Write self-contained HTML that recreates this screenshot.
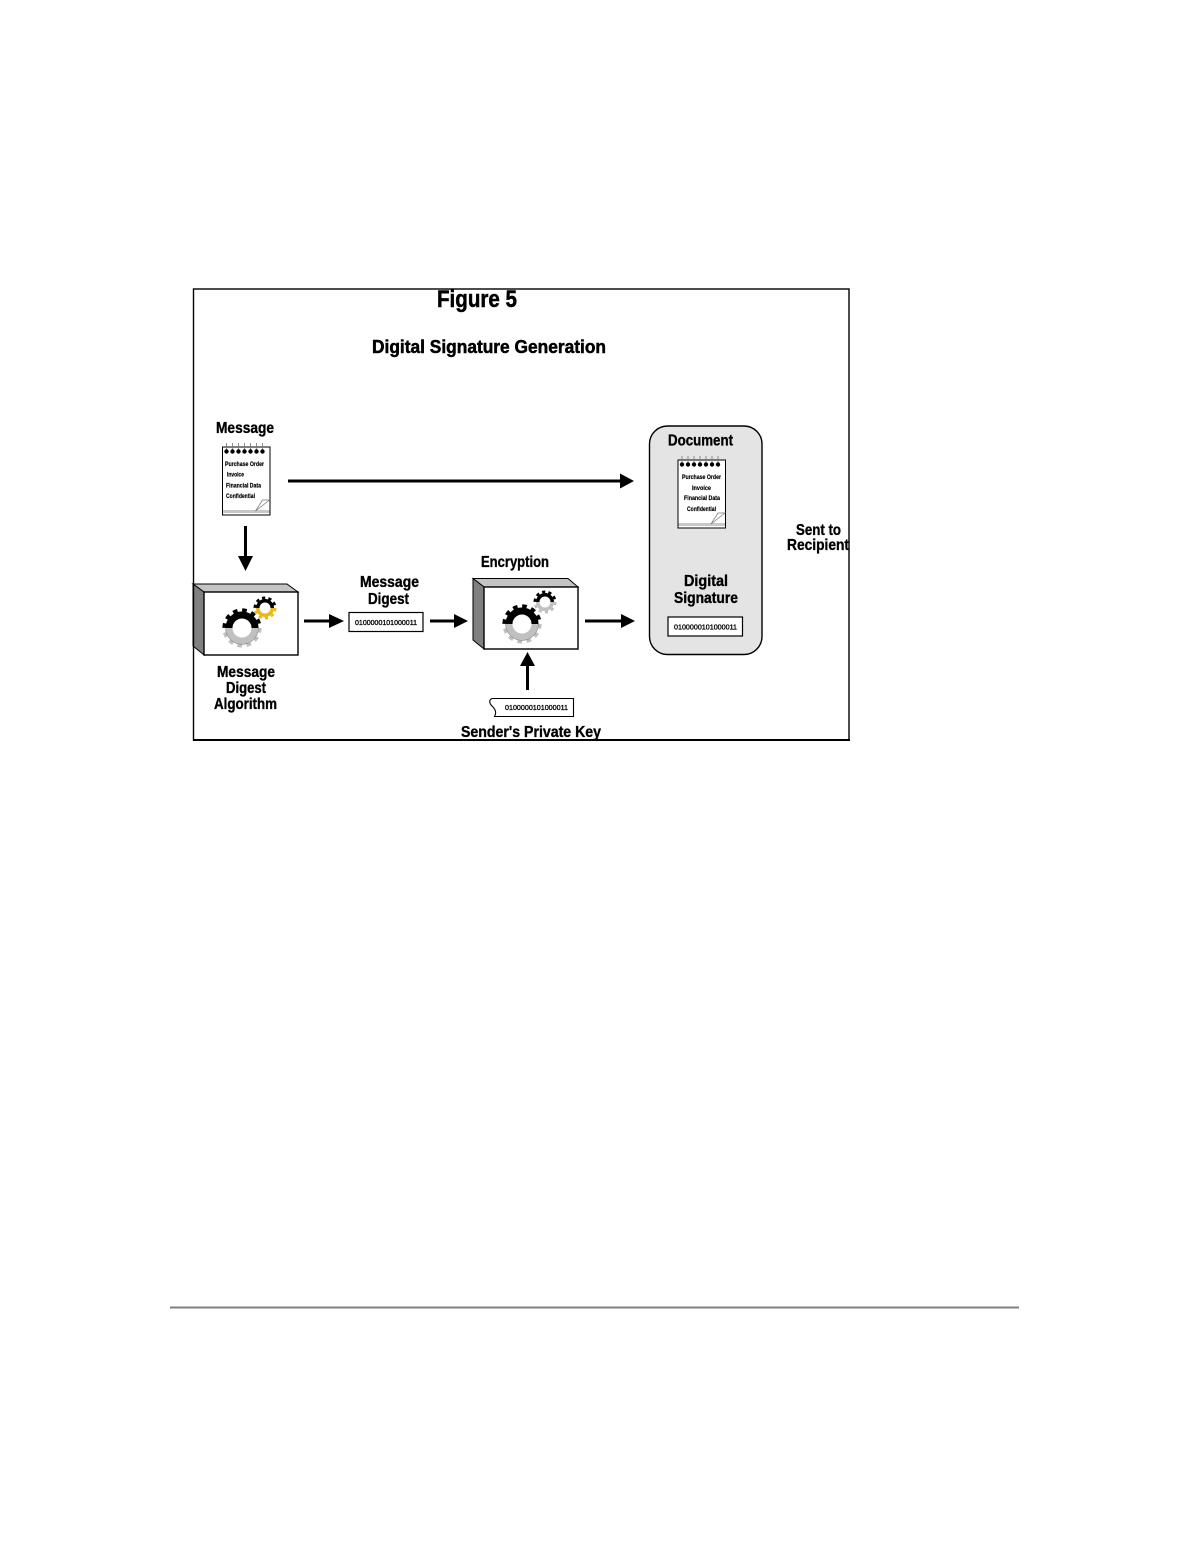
<!DOCTYPE html>
<html>
<head>
<meta charset="utf-8">
<style>
html,body{margin:0;padding:0;background:#fff;}
svg{display:block;}
text{font-family:"Liberation Sans",sans-serif;font-weight:bold;fill:#000;}
.l{font-size:16px;stroke:#000;stroke-width:.35px;}
.s{font-size:6px;stroke:#000;stroke-width:.15px;}
.b{font-size:7px;font-weight:normal;stroke:#000;stroke-width:.3px;}
.t{stroke:#000;stroke-width:.5px;}
</style>
</head>
<body>
<svg xmlns="http://www.w3.org/2000/svg" width="1198" height="1560" viewBox="0 0 1198 1560">
<defs>
  <clipPath id="top"><rect x="-30" y="-30" width="60" height="30"/></clipPath>
  <clipPath id="bot"><rect x="-30" y="0" width="60" height="30"/></clipPath>
  <g id="bigBlack">
    <g clip-path="url(#top)">
      <circle r="13" fill="none" stroke="#000" stroke-width="7"/>
      <circle r="17.8" fill="none" stroke="#000" stroke-width="3.6" stroke-dasharray="4.66 4.66"/>
    </g>
  </g>
  <g id="bigGray">
    <g clip-path="url(#bot)">
      <circle r="13" fill="none" stroke="#c0c0c0" stroke-width="7"/>
      <circle r="17.8" fill="none" stroke="#c0c0c0" stroke-width="3.6" stroke-dasharray="4.66 4.66"/>
      <circle r="16.4" fill="none" stroke="#777" stroke-width=".5"/>
    </g>
  </g>
  <g id="smallGear">
    <g clip-path="url(#top)">
      <circle r="7.25" fill="none" stroke="#000" stroke-width="3.5"/>
      <circle r="10.2" fill="none" stroke="#000" stroke-width="2.6" stroke-dasharray="3.2 3.2"/>
    </g>
  </g>
  <g id="pad">
    <rect x="0" y="0" width="47.5" height="68" fill="#fff" stroke="#000" stroke-width="1"/>
    <rect x="0.5" y="63" width="46.5" height="3" fill="#c8c8c8"/>
    <path d="M33 64 L40 53 L47 53 Z" fill="#fff" stroke="#777" stroke-width=".7"/>
    <g stroke="#777" stroke-width=".8">
      <path d="M4 -4V4M10 -4V4M16 -4V4M22 -4V4M28 -4V4M34 -4V4M40 -4V4"/>
    </g>
    <g fill="#000">
      <circle cx="4" cy="4.5" r="2.2"/><circle cx="10" cy="4.5" r="2.2"/><circle cx="16" cy="4.5" r="2.2"/><circle cx="22" cy="4.5" r="2.2"/><circle cx="28" cy="4.5" r="2.2"/><circle cx="34" cy="4.5" r="2.2"/><circle cx="40" cy="4.5" r="2.2"/>
    </g>
  </g>
</defs>

<rect width="1198" height="1560" fill="#fff"/>

<!-- Document group -->
<rect x="649.5" y="426" width="112.5" height="228.5" rx="18" ry="18" fill="#e4e4e4" stroke="#000" stroke-width="1.4"/>

<!-- Title -->
<text class="t" x="437" y="307" font-size="24" textLength="80" lengthAdjust="spacingAndGlyphs">Figure 5</text>
<text class="t" x="372" y="353" font-size="18" textLength="234" lengthAdjust="spacingAndGlyphs">Digital Signature Generation</text>

<!-- Message -->
<text class="l" x="216" y="433" textLength="58" lengthAdjust="spacingAndGlyphs">Message</text>
<use href="#pad" x="222.5" y="447"/>
<text class="s" x="225" y="466" textLength="39" lengthAdjust="spacingAndGlyphs">Purchase Order</text>
<text class="s" x="227" y="476.5" textLength="17" lengthAdjust="spacingAndGlyphs">Invoice</text>
<text class="s" x="226" y="487.5" textLength="35" lengthAdjust="spacingAndGlyphs">Financial Data</text>
<text class="s" x="226" y="498" textLength="29" lengthAdjust="spacingAndGlyphs">Confidential</text>

<!-- Long arrow -->
<rect x="288" y="479.5" width="333" height="3" fill="#000"/>
<polygon points="620,473.5 634,481 620,488.5" fill="#000"/>

<!-- Down arrow -->
<rect x="244" y="526" width="3" height="31" fill="#000"/>
<polygon points="238,556 253,556 245.5,571" fill="#000"/>

<!-- Box 1 -->
<polygon points="193,584 287,584 298,592 204,592" fill="#c4c4c4" stroke="#000" stroke-width="1"/>
<polygon points="193,584 204,592 204,655 193,646" fill="#808080" stroke="#000" stroke-width="1"/>
<rect x="204" y="592" width="94" height="63" fill="#fff" stroke="#000" stroke-width="1.4"/>
<use href="#bigBlack" x="242" y="628"/>
<use href="#bigGray" x="242" y="628"/>
<g transform="translate(265,608)">
  <g clip-path="url(#bot)">
    <circle r="7.25" fill="none" stroke="#e8b818" stroke-width="3.5"/>
    <circle r="10.2" fill="none" stroke="#e8b818" stroke-width="2.6" stroke-dasharray="3.2 3.2"/>
  </g>
  <use href="#smallGear"/>
</g>
<text class="l" x="217" y="677" textLength="58" lengthAdjust="spacingAndGlyphs">Message</text>
<text class="l" x="226" y="693" textLength="40" lengthAdjust="spacingAndGlyphs">Digest</text>
<text class="l" x="214" y="709" textLength="63" lengthAdjust="spacingAndGlyphs">Algorithm</text>

<!-- arrow -->
<rect x="304" y="619.5" width="27" height="3" fill="#000"/>
<polygon points="329,614 344,621 329,628" fill="#000"/>

<!-- Digest -->
<text class="l" x="360" y="587" textLength="59" lengthAdjust="spacingAndGlyphs">Message</text>
<text class="l" x="368" y="604" textLength="41" lengthAdjust="spacingAndGlyphs">Digest</text>
<rect x="349" y="612.5" width="74" height="19" fill="#fff" stroke="#000" stroke-width="1.2"/>
<text class="b" x="355" y="625" textLength="62" lengthAdjust="spacingAndGlyphs">0100000101000011</text>

<!-- arrow -->
<rect x="430" y="619.5" width="25" height="3" fill="#000"/>
<polygon points="454,614 468,621 454,628" fill="#000"/>

<!-- Box 2 -->
<text class="l" x="481" y="567" textLength="68" lengthAdjust="spacingAndGlyphs">Encryption</text>
<polygon points="473,578.5 568,578.5 578,587 484,587" fill="#c4c4c4" stroke="#000" stroke-width="1"/>
<polygon points="473,578.5 484,587 484,649 473,640" fill="#808080" stroke="#000" stroke-width="1"/>
<rect x="484" y="587" width="94" height="62" fill="#fff" stroke="#000" stroke-width="1.4"/>
<use href="#bigBlack" x="522" y="624"/>
<use href="#bigGray" x="522" y="624"/>
<g transform="translate(545,602)">
  <g clip-path="url(#bot)">
    <circle r="7.25" fill="none" stroke="#c0c0c0" stroke-width="3.5"/>
    <circle r="10.2" fill="none" stroke="#c0c0c0" stroke-width="2.6" stroke-dasharray="3.2 3.2"/>
  </g>
  <use href="#smallGear"/>
</g>

<!-- arrow -->
<rect x="585" y="619.5" width="37" height="3" fill="#000"/>
<polygon points="621,614 635,621 621,628" fill="#000"/>

<!-- Up arrow -->
<rect x="526" y="665" width="3" height="25" fill="#000"/>
<polygon points="520,666 535,666 527.5,652" fill="#000"/>

<!-- Key -->
<path d="M492 698.5 H573.5 V716.5 H495" fill="#fff" stroke="none"/>
<path d="M492 698.5 H573.5 V716.5 H494.5 C497 712 495 709 492 706 C489 703 489 700 492 698.5 Z" fill="#fff" stroke="#000" stroke-width="1.1"/>
<text class="b" x="505" y="710" textLength="63" lengthAdjust="spacingAndGlyphs">0100000101000011</text>
<text class="l" x="461" y="737" textLength="140" lengthAdjust="spacingAndGlyphs">Sender's Private Key</text>

<!-- Document contents -->
<text class="l" x="668" y="445.5" textLength="65" lengthAdjust="spacingAndGlyphs">Document</text>
<use href="#pad" x="678" y="460"/>
<text class="s" x="682" y="479" textLength="39" lengthAdjust="spacingAndGlyphs">Purchase Order</text>
<text class="s" x="692" y="490" textLength="19" lengthAdjust="spacingAndGlyphs">Invoice</text>
<text class="s" x="684" y="500" textLength="36" lengthAdjust="spacingAndGlyphs">Financial Data</text>
<text class="s" x="687" y="511" textLength="29" lengthAdjust="spacingAndGlyphs">Confidential</text>
<text class="l" x="684" y="586" textLength="44" lengthAdjust="spacingAndGlyphs">Digital</text>
<text class="l" x="674" y="603" textLength="64" lengthAdjust="spacingAndGlyphs">Signature</text>
<rect x="668" y="617" width="74.5" height="19" fill="#fff" stroke="#000" stroke-width="1.2"/>
<text class="b" x="674" y="629.5" textLength="63" lengthAdjust="spacingAndGlyphs">0100000101000011</text>

<!-- Sent to -->
<text class="l" x="796" y="535" textLength="45" lengthAdjust="spacingAndGlyphs">Sent to</text>
<text class="l" x="787" y="550" textLength="62" lengthAdjust="spacingAndGlyphs">Recipient</text>

<!-- Frame -->
<rect x="193.5" y="289" width="655.5" height="451" fill="none" stroke="#000" stroke-width="1.4"/>
<rect x="193" y="739" width="657" height="2" fill="#000"/>

<!-- Footer rule -->
<rect x="170" y="1306.5" width="849" height="2" fill="#808080"/>
</svg>
</body>
</html>
